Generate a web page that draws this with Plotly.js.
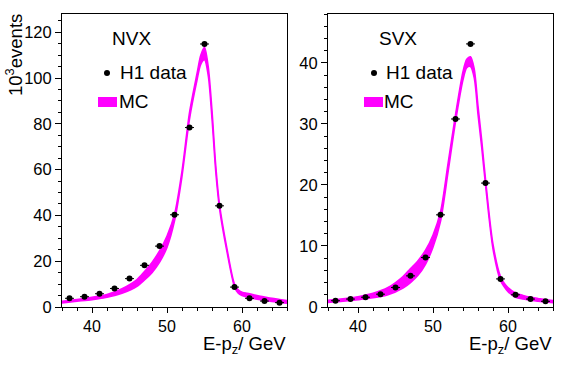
<!DOCTYPE html>
<html>
<head>
<meta charset="utf-8">
<script src="https://cdn.plot.ly/plotly-3.0.1.min.js"></script>
<style>html,body{margin:0;padding:0;background:#fff;}#chart{width:567px;height:369px;}</style>
</head>
<body>
<div id="chart"></div>
<script>
// ---- data ----
const dataX = [37, 39, 41, 43, 45, 47, 49, 51, 53, 55, 57, 59, 61, 63, 65];
const nvxData = [3.8, 4.5, 5.8, 8.1, 12.4, 18.2, 26.6, 40.3, 78.4, 114.9, 44.2, 8.7, 3.8, 2.6, 1.9];
const svxData = [1.03, 1.3, 1.6, 2.1, 3.2, 5.1, 8.1, 15.1, 30.8, 43.1, 20.3, 4.6, 2.0, 1.3, 0.93];

const mcX = [36, 38, 40, 42, 44, 46, 47, 48, 49, 50, 51, 52, 53, 54, 54.5, 55, 55.5, 56, 56.5, 57, 58, 59, 59.5, 60, 61, 62, 63, 64, 65, 66];
const nvxMcLo = [1.8, 2.5, 3.2, 4.2, 6.0, 9.0, 11.8, 15.0, 19.5, 26, 37.5, 57, 82, 99, 106, 108, 101, 82, 59, 43, 24, 8.8, 6.0, 5.0, 4.0, 3.4, 2.9, 2.4, 2.0, 1.6];
const nvxMcHi = [2.5, 3.3, 4.3, 5.5, 8.0, 12.0, 15.5, 19.5, 24.5, 31, 40.5, 59.5, 85, 102, 110, 113.5, 105, 86, 62, 45, 25.5, 10.0, 7.5, 6.5, 5.8, 5.0, 4.4, 3.8, 3.3, 2.8];
const svxMcLo = [0.75, 0.95, 1.2, 1.5, 2.0, 3.1, 4.0, 5.2, 7.0, 9.8, 14.0, 22, 30.3, 37.2, 39.2, 39.4, 37.5, 31.5, 26, 20, 9.5, 4.3, 3.3, 2.5, 1.6, 1.3, 1.1, 0.95, 0.8, 0.7];
const svxMcHi = [1.1, 1.35, 1.7, 2.25, 3.2, 5.0, 6.3, 7.6, 9.3, 11.8, 15.6, 23.5, 31.5, 38.6, 40.6, 41.0, 39, 33, 27.3, 21, 10.3, 5.0, 3.9, 3.2, 2.3, 1.9, 1.6, 1.4, 1.2, 1.05];

const panelNames = ["NVX", "SVX"];
const xRange = [36, 66];
const yRanges = [[0, 128], [0, 48]];

const MAG = "#ff00ff";
const FONT = "Liberation Sans, Arial, sans-serif";

function band(lo, hi, xa, ya) {
  return [
    {x: mcX, y: lo, xaxis: xa, yaxis: ya, mode: "lines", line: {color: MAG, width: 1.5, shape: "spline", smoothing: 0.8}, hoverinfo: "skip", showlegend: false},
    {x: mcX, y: hi, xaxis: xa, yaxis: ya, mode: "lines", fill: "tonexty", fillcolor: MAG, line: {color: MAG, width: 1.5, shape: "spline", smoothing: 0.8}, hoverinfo: "skip", showlegend: false}
  ];
}
function pts(y, xa, ya) {
  return {x: dataX, y: y, xaxis: xa, yaxis: ya, mode: "markers", marker: {color: "#000", size: 6},
    error_x: {type: "constant", value: 0.6, thickness: 1, width: 0, color: "#000"}, showlegend: false};
}

const traces = [
  ...band(nvxMcLo, nvxMcHi, "x", "y"), pts(nvxData, "x", "y"),
  ...band(svxMcLo, svxMcHi, "x2", "y2"), pts(svxData, "x2", "y2")
];

const W = 567, H = 369;
const px = v => v / W, py = v => 1 - v / H;

function xa(domain, anchor) {
  return {domain: domain, anchor: anchor, range: xRange, dtick: 10, tick0: 0, ticks: "outside", ticklen: 5, tickcolor: "#000",
    minor: {dtick: 2, ticks: "outside", ticklen: 3, tickcolor: "#000"},
    showline: true, mirror: true, linecolor: "#000", linewidth: 1, showgrid: false, zeroline: false,
    tickfont: {family: FONT, size: 16, color: "#000"}};
}
function ya(domain, anchor, range, dt, mdt) {
  return {domain: domain, anchor: anchor, range: range, dtick: dt, tick0: 0, ticks: "outside", ticklen: 6, tickcolor: "#000",
    minor: {dtick: mdt, ticks: "outside", ticklen: 3, tickcolor: "#000"},
    showline: true, mirror: true, linecolor: "#000", linewidth: 1, showgrid: false, zeroline: false,
    tickfont: {family: FONT, size: 16.5, color: "#000"}};
}

const yDom = [py(307), py(14)];
const T = (x, y, text, anchor, size) => ({xref: "paper", yref: "paper", x: px(x), y: py(y), xanchor: anchor, yanchor: "middle", text: text, showarrow: false, font: {family: FONT, size: size, color: "#000"}});
const layout = {
  width: W, height: H, margin: {l: 0, r: 0, t: 0, b: 0},
  paper_bgcolor: "#fff", plot_bgcolor: "#fff", showlegend: false,
  xaxis: xa([px(62), px(287)], "y"),
  yaxis: ya(yDom, "x", yRanges[0], 20, 5),
  xaxis2: xa([px(328), px(553)], "y2"),
  yaxis2: ya(yDom, "x2", yRanges[1], 10, 2),
  annotations: [
    T(110, 38, panelNames[0], "left", 19),
    T(377, 38, panelNames[1], "left", 19),
    T(118, 73, "H1 data", "left", 19),
    T(384, 73, "H1 data", "left", 19),
    T(117, 102, "MC", "left", 19),
    T(382, 102, "MC", "left", 19),
    T(288, 345, "E-p<sub>z</sub>/ GeV", "right", 18.5),
    T(554, 345, "E-p<sub>z</sub>/ GeV", "right", 18.5),
    {xref: "paper", yref: "paper", x: px(14), y: py(12), xanchor: "center", yanchor: "top", textangle: -90, text: "10<sup>3</sup>events", showarrow: false, font: {family: FONT, size: 18.5, color: "#000"}}
  ],
  shapes: [
    {type: "circle", xref: "paper", yref: "paper", x0: px(104), x1: px(110), y0: py(70), y1: py(76), fillcolor: "#000", line: {width: 0}},
    {type: "circle", xref: "paper", yref: "paper", x0: px(371), x1: px(377), y0: py(70), y1: py(76), fillcolor: "#000", line: {width: 0}},
    {type: "rect", xref: "paper", yref: "paper", x0: px(98), x1: px(117), y0: py(97), y1: py(107), fillcolor: MAG, line: {width: 0}},
    {type: "rect", xref: "paper", yref: "paper", x0: px(364), x1: px(383), y0: py(97), y1: py(107), fillcolor: MAG, line: {width: 0}}
  ]
};

Plotly.newPlot("chart", traces, layout, {staticPlot: true, displayModeBar: false});
</script>
</body>
</html>
